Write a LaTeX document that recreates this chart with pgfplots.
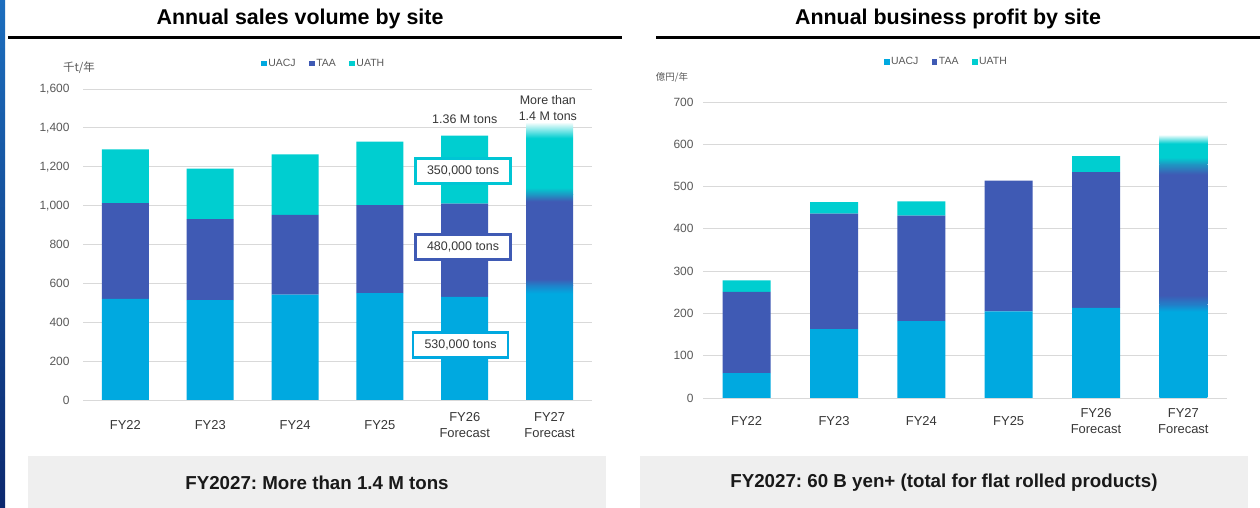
\documentclass[border=0pt]{standalone}
\usepackage{fontspec}
\setmainfont{Liberation Sans}
\newfontfamily\cjk{Noto Sans CJK JP}
\usepackage{pgfplots}
\pgfplotsset{compat=1.18}
\frenchspacing

% site colours
\definecolor{uacj}{RGB}{0,169,224}
\definecolor{taa}{RGB}{63,90,180}
\definecolor{uath}{RGB}{0,206,208}
\definecolor{gridc}{RGB}{217,217,217}
\definecolor{tickc}{RGB}{89,89,89}
\definecolor{labc}{RGB}{55,55,55}
\definecolor{boxc}{RGB}{239,239,239}
\definecolor{stripetop}{RGB}{28,110,190}
\definecolor{stripebot}{RGB}{12,40,110}
\colorlet{uacjtaa}{uacj!50!taa}
\colorlet{taauath}{taa!50!uath}

% soft transitions for the forecast bars (path spans 25bp..75bp)
\pgfdeclareverticalshading{fcuacj}{100bp}{color(0bp)=(uacj); color(71.5bp)=(uacj); color(75bp)=(uacjtaa); color(100bp)=(uacjtaa)}
\pgfdeclareverticalshading{fctaa}{100bp}{color(0bp)=(uacjtaa); color(25bp)=(uacjtaa); color(28.5bp)=(taa); color(71.5bp)=(taa); color(75bp)=(taauath); color(100bp)=(taauath)}
\pgfdeclareverticalshading{fcuathL}{100bp}{color(0bp)=(taauath); color(25bp)=(taauath); color(30bp)=(uath); color(64bp)=(uath); color(75bp)=(white); color(100bp)=(white)}
\pgfdeclareverticalshading{fcuathR}{100bp}{color(0bp)=(taauath); color(25bp)=(taauath); color(37bp)=(uath); color(60bp)=(uath); color(75bp)=(white); color(100bp)=(white)}

\tikzset{
  tonbox/.style={fill=white, line width=2.8bp, minimum width=95bp, minimum height=25bp,
    inner sep=0pt, font=\fontsize{12.5}{14}\selectfont, text=labc},
}

\pgfplotsset{
  sitechart/.style={
    scale only axis,
    ybar stacked,
    xmin=-0.5, xmax=5.5,
    ymin=0,
    xtick={0,1,2,3,4,5},
    xticklabels={FY22,FY23,FY24,FY25,{FY26\\Forecast},{FY27\\Forecast}},
    axis line style={draw=none},
    major tick length=0pt,
    ymajorgrids,
    major grid style={draw=gridc, line width=0.9bp},
    /pgf/number format/assume math mode=true,
    /pgf/number format/1000 sep={,},
    yticklabel style={font=\fontsize{12}{14}\selectfont, text=tickc},
    xticklabel style={font=\fontsize{13}{16}\selectfont, text=labc, align=center, anchor=center},
    legend columns=-1,
    legend style={draw=none, fill=none, font=\fontsize{10.5}{12}\selectfont, text=tickc,
      nodes={inner xsep=1.5bp},
      /tikz/every even column/.append style={column sep=12bp}},
    legend image code/.code={\fill[##1] (0bp,-2.8bp) rectangle (5.6bp,2.8bp);},
  },
  overlaychart/.style={
    scale only axis, ybar stacked, hide axis,
    xmin=-0.5, xmax=5.5, ymin=0,
  },
}

\begin{document}
\begin{tikzpicture}
\path[use as bounding box] (0,0) rectangle (1260bp,508bp);
\fill[white] (0,0) rectangle (1260bp,508bp);

% side stripe
\shade[top color=stripetop, bottom color=stripebot] (0,0) rectangle (5bp,508bp);

% headings
\node[font=\fontsize{21.5}{24}\selectfont\bfseries] at (300bp,489bp) {Annual sales volume by site};
\node[font=\fontsize{21.5}{24}\selectfont\bfseries] at (948bp,489bp) {Annual business profit by site};
\draw[line width=3bp] (8bp,470bp) -- (622bp,470bp);
\draw[line width=3bp] (656bp,470bp) -- (1260bp,470bp);

% summary boxes
\fill[boxc] (28bp,0) rectangle (606bp,52bp);
\fill[boxc] (640bp,0) rectangle (1248bp,52bp);
\node[font=\fontsize{18.8}{20}\selectfont\bfseries, text=black!90] at (317bp,25bp) {FY2027: More than 1.4 M tons};
\node[font=\fontsize{18.8}{20}\selectfont\bfseries, text=black!90] at (944bp,25bp) {FY2027: 60 B yen+ (total for flat rolled products)};

% unit labels
\node[font=\cjk\fontsize{11.5}{13}\selectfont, text=tickc] at (79bp,440bp) {千t/年};
\node[font=\cjk\fontsize{9.5}{11}\selectfont, text=tickc] at (672bp,431bp) {億円/年};

% ---------- sales volume (kt/year) ----------
\begin{axis}[sitechart,
  at={(83bp,108bp)}, anchor=south west,
  width=509bp, height=311bp, bar width=47bp,
  ymax=1600, ytick={0,200,...,1600},
  yticklabel style={xshift=-10bp},
  xticklabel style={yshift=-25bp},
  legend style={at={(0.4725,1.082)}, anchor=center},
]
\addplot[fill=uacj, draw=none] coordinates {(0,520) (1,514) (2,542) (3,550) (4,530)};
\addplot[fill=taa, draw=none] coordinates {(0,493) (1,417) (2,410) (3,453) (4,480)};
\addplot[fill=uath, draw=none] coordinates {(0,277) (1,259) (2,312) (3,326) (4,350)};
\legend{UACJ,TAA,UATH}
\end{axis}
\begin{axis}[overlaychart,
  at={(83bp,108bp)}, anchor=south west,
  width=509bp, height=311bp, bar width=47bp, ymax=1600,
]
\addplot[shade, shading=fcuacj, draw=none] coordinates {(5,590)};
\addplot[shade, shading=fctaa, draw=none] coordinates {(5,465)};
\addplot[shade, shading=fcuathL, draw=none] coordinates {(5,375)};
\node[tonbox, draw=uath!75!uacj] at (axis cs:3.98,1178) {350,000 tons};
\node[tonbox, draw=taa] at (axis cs:3.98,787) {480,000 tons};
\node[tonbox, draw=uacj] at (axis cs:3.95,283) {530,000 tons};
\node[font=\fontsize{12.5}{14}\selectfont, text=labc] at (axis cs:4.0,1445) {1.36 M tons};
\node[font=\fontsize{12.5}{16}\selectfont, text=labc, align=center] at (axis cs:4.98,1502) {More than\\1.4 M tons};
\end{axis}

% ---------- business profit (100M yen/year) ----------
\begin{axis}[sitechart,
  at={(703bp,110bp)}, anchor=south west,
  width=524bp, height=296bp, bar width=48bp,
  ymax=700, ytick={0,100,...,700},
  yticklabel style={xshift=-6bp},
  xticklabel style={yshift=-23bp},
  legend style={at={(0.464,1.135)}, anchor=center},
]
\addplot[fill=uacj, draw=none] coordinates {(0,59) (1,163) (2,182) (3,205) (4,213)};
\addplot[fill=taa, draw=none] coordinates {(0,192) (1,273) (2,249) (3,309) (4,321)};
\addplot[fill=uath, draw=none] coordinates {(0,27) (1,27) (2,34) (3,0) (4,38)};
\legend{UACJ,TAA,UATH}
\end{axis}
\begin{axis}[overlaychart,
  at={(703bp,110bp)}, anchor=south west,
  width=524bp, height=296bp, bar width=48bp, ymax=700,
]
\addplot[shade, shading=fcuacj, draw=none] coordinates {(5,220)};
\addplot[shade, shading=fctaa, draw=none] coordinates {(5,332)};
\addplot[shade, shading=fcuathR, draw=none] coordinates {(5,71)};
\end{axis}
\end{tikzpicture}
\end{document}
